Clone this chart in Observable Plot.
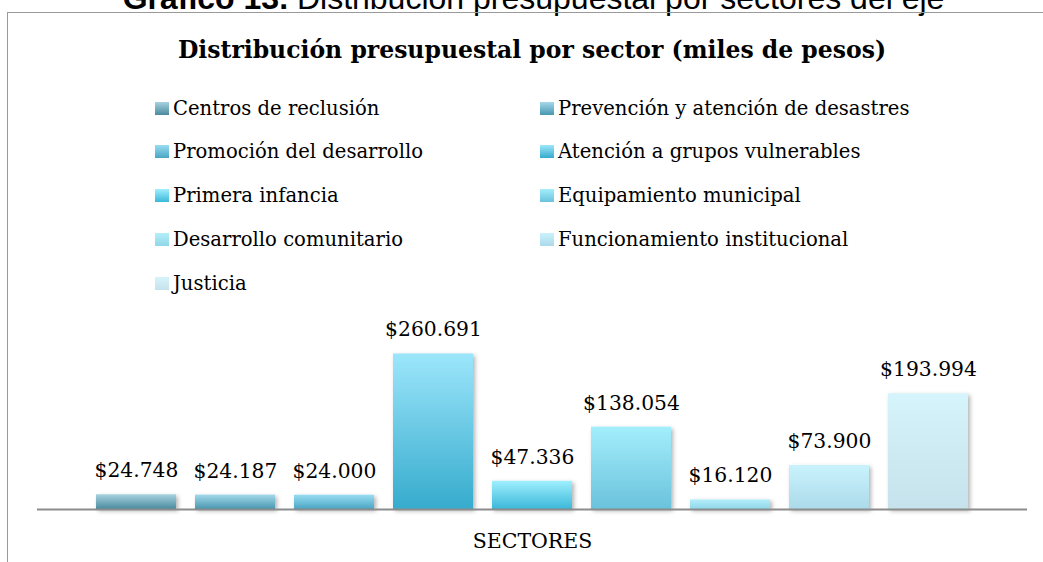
<!DOCTYPE html>
<html>
<head>
<meta charset="utf-8">
<script src="https://cdn.jsdelivr.net/npm/d3@7"></script>
<script src="https://cdn.jsdelivr.net/npm/@observablehq/plot@0.6"></script>
<style>
  html, body { margin: 0; padding: 0; background: #fff; }
  #page { position: relative; width: 1043px; height: 562px; overflow: hidden; background: #fff; }
  #caption { position: absolute; left: 0; width: 1067px; top: -18px; text-align: center;
    font-family: "Liberation Sans", Arial, sans-serif; font-size: 32px; line-height: 32px; color: #000; white-space: nowrap; }
  #box { position: absolute; left: 7px; top: 12px; width: 1200px; height: 700px; border: 1.5px solid #9a9a9a; box-sizing: border-box; }
  #title { position: absolute; left: 0; width: 1064px; top: 38.5px; text-align: center;
    font-family: "DejaVu Serif", serif; font-weight: bold; font-size: 23.5px; line-height: 23.5px; color: #000; white-space: nowrap; }
  .leg { position: absolute; font-family: "DejaVu Serif", serif; font-size: 19.6px; line-height: 19.6px; color: #000; white-space: nowrap; }
  .sw { position: absolute; width: 14px; height: 13px; }
  #chart { position: absolute; left: 0; top: 300px; }
</style>
</head>
<body>
<div id="page">
  <div id="caption"><b>Gráfico 13.</b> Distribución presupuestal por sectores del eje</div>
  <div id="box"></div>
  <div id="title">Distribución presupuestal por sector (miles de pesos)</div>
  <div id="legend"></div>
  <div id="chart"></div>
</div>
<script>
// ---- data ----
const sectores = [
  "Centros de reclusión",
  "Prevención y atención de desastres",
  "Promoción del desarrollo",
  "Atención a grupos vulnerables",
  "Primera infancia",
  "Equipamiento municipal",
  "Desarrollo comunitario",
  "Funcionamiento institucional",
  "Justicia"
];
const valores = [24748, 24187, 24000, 260691, 47336, 138054, 16120, 73900, 193994];
const colorArriba = ["#a8d2e0", "#a4d9ea", "#98ddf3", "#9ce6fb", "#a0effe", "#a4eefc", "#b4eef9", "#c9f2fc", "#d6f4fb"];
const colorAbajo  = ["#4a8aa0", "#4896b0", "#4aa5c2", "#36abcd", "#3bb8d9", "#6ac2dc", "#8fd7ea", "#acdaea", "#c6e2ec"];
const ejeTitulo = "SECTORES";

// ---- formatting ----
const loc = d3.formatLocale({decimal: ",", thousands: ".", grouping: [3], currency: ["$", ""]});
const fmt = loc.format("$,.0f");
const data = sectores.map((s, i) => ({sector: s, valor: valores[i], etiqueta: fmt(valores[i]), i}));

// ---- legend (HTML) ----
const legend = document.getElementById("legend");
const colLeft = [155, 173], colRight = [540, 558];
sectores.forEach((s, i) => {
  const row = Math.floor(i / 2), col = i % 2;
  const cx = col === 0 ? colLeft : colRight;
  const cy = 108 + row * 43.8;
  const sw = document.createElement("div");
  sw.className = "sw";
  sw.style.left = cx[0] + "px";
  sw.style.top = (cy - 6.5) + "px";
  sw.style.background = `linear-gradient(to bottom, ${colorArriba[i]}, ${colorAbajo[i]})`;
  legend.appendChild(sw);
  const t = document.createElement("div");
  t.className = "leg";
  t.style.left = cx[1] + "px";
  t.style.top = (cy - 9.4) + "px";
  t.textContent = s;
  legend.appendChild(t);
});

// ---- chart ----
const defs = () => {
  const d = d3.create("svg:defs");
  data.forEach(r => {
    const g = d.append("linearGradient").attr("id", "grad" + r.i)
      .attr("x1", 0).attr("y1", 0).attr("x2", 0).attr("y2", 1);
    g.append("stop").attr("offset", "0%").attr("stop-color", colorArriba[r.i]);
    g.append("stop").attr("offset", "100%").attr("stop-color", colorAbajo[r.i]);
  });
  const f = d.append("filter").attr("id", "sombra").attr("x", "-20%").attr("y", "-20%").attr("width", "150%").attr("height", "150%");
  f.append("feDropShadow").attr("dx", 2).attr("dy", 2).attr("stdDeviation", 2)
    .attr("flood-color", "#000").attr("flood-opacity", 0.3);
  return d.node();
};

const chart = Plot.plot({
  width: 1043,
  height: 262,
  marginLeft: 96,
  marginRight: 75,
  marginTop: 30,
  marginBottom: 53,
  style: {fontFamily: "DejaVu Serif, serif", background: "transparent", overflow: "visible"},
  x: {domain: sectores, paddingInner: 0.192, paddingOuter: 0, axis: null},
  y: {domain: [0, 300000], axis: null},
  color: {type: "identity"},
  marks: [
    defs,
    Plot.barY(data, {x: "sector", y: "valor", fill: d => `url(#grad${d.i})`}),
    Plot.ruleY([0], {stroke: "#8c8c8c", strokeWidth: 2, insetLeft: -59, insetRight: -59}),
    Plot.text(data, {x: "sector", y: "valor", text: "etiqueta", dy: -24, fontSize: 20.3, fill: "#000"}),
    Plot.text([ejeTitulo], {text: d => d, frameAnchor: "bottom", dy: 38, fontSize: 20.5, fill: "#000"})
  ]
});
const barG = chart.querySelector('g[aria-label="bar"]');
if (barG) barG.setAttribute("filter", "url(#sombra)");
document.getElementById("chart").appendChild(chart);
</script>
</body>
</html>
